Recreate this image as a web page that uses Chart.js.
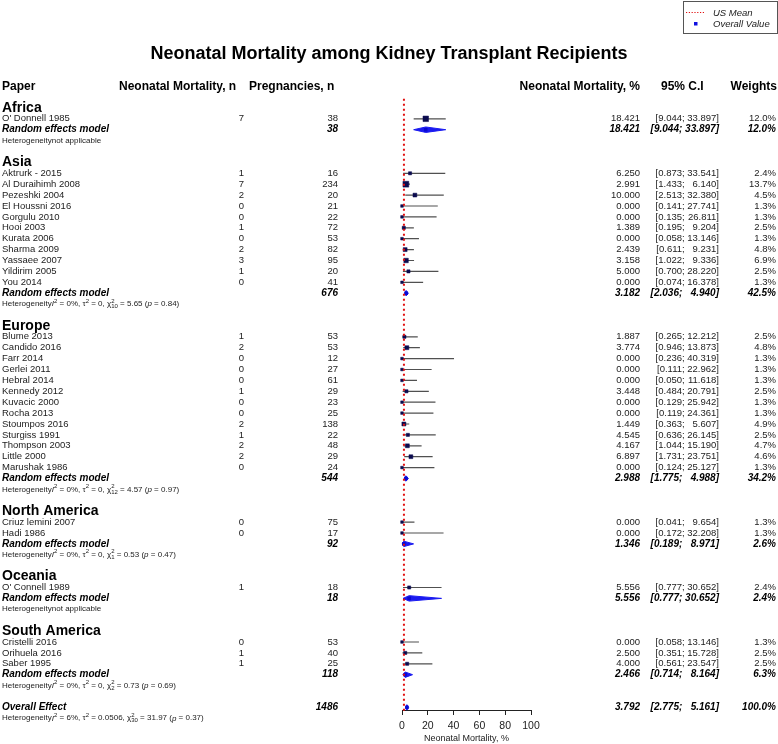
<!DOCTYPE html>
<html><head><meta charset="utf-8">
<script src="https://cdn.jsdelivr.net/npm/chart.js@4.4.0/dist/chart.umd.min.js"></script>
<style>html,body{margin:0;padding:0;background:#fff}#wrap{width:778px;height:744px;position:relative}</style>
</head><body><div id="wrap"><canvas id="c" width="778" height="744"></canvas></div>
<script>
// ---------- DATA ----------
const chartTitle = 'Neonatal Mortality among Kidney Transplant Recipients';
const regions = ['Africa', 'Asia', 'Europe', 'North America', 'Oceania', 'South America'];
const regionCounts = [1, 11, 13, 2, 1, 3];
const studyNames = [
  "O' Donnell 1985",
  'Aktrurk - 2015', 'Al Duraihimh 2008', 'Pezeshki 2004', 'El Houssni 2016', 'Gorgulu 2010', 'Hooi 2003',
  'Kurata 2006', 'Sharma 2009', 'Yassaee 2007', 'Yildirim 2005', 'You 2014',
  'Blume 2013', 'Candido 2016', 'Farr 2014', 'Gerlei 2011', 'Hebral 2014', 'Kennedy 2012', 'Kuvacic 2000',
  'Rocha 2013', 'Stoumpos 2016', 'Sturgiss 1991', 'Thompson 2003', 'Little 2000', 'Marushak 1986',
  'Criuz lemini 2007', 'Hadi 1986',
  "O' Connell 1989",
  'Cristelli 2016', 'Orihuela 2016', 'Saber 1995'
];
const deaths = [7, 1,7,2,0,0,1,0,2,3,1,0, 1,2,0,0,0,1,0,0,2,1,2,2,0, 0,0, 1, 0,1,1];
const pregnancies = [38, 16,234,20,21,22,72,53,82,95,20,41, 53,53,12,27,61,29,23,25,138,22,48,29,24, 75,17, 18, 53,40,25];
const estimate = [18.421, 6.250,2.991,10.000,0.000,0.000,1.389,0.000,2.439,3.158,5.000,0.000,
  1.887,3.774,0.000,0.000,0.000,3.448,0.000,0.000,1.449,4.545,4.167,6.897,0.000, 0.000,0.000, 5.556, 0.000,2.500,4.000];
const ciLow = [9.044, 0.873,1.433,2.513,0.141,0.135,0.195,0.058,0.611,1.022,0.700,0.074,
  0.265,0.946,0.236,0.111,0.050,0.484,0.129,0.119,0.363,0.636,1.044,1.731,0.124, 0.041,0.172, 0.777, 0.058,0.351,0.561];
const ciHigh = [33.897, 33.541,6.140,32.380,27.741,26.811,9.204,13.146,9.231,9.336,28.220,16.378,
  12.212,13.873,40.319,22.962,11.618,20.791,25.942,24.361,5.607,26.145,15.190,23.751,25.127, 9.654,32.208, 30.652, 13.146,15.728,23.547];
const weights = [12.0, 2.4,13.7,4.5,1.3,1.3,2.5,1.3,4.8,6.9,2.5,1.3, 2.5,4.8,1.3,1.3,1.3,2.5,1.3,1.3,4.9,2.5,4.7,4.6,1.3, 1.3,1.3, 2.4, 1.3,2.5,2.5];
// pooled (random effects) per region
const reTotal = [38, 676, 544, 92, 18, 118];
const reEst = [18.421, 3.182, 2.988, 1.346, 5.556, 2.466];
const reLow = [9.044, 2.036, 1.775, 0.189, 0.777, 0.714];
const reHigh = [33.897, 4.940, 4.988, 8.971, 30.652, 8.164];
const reWeight = [12.0, 42.5, 34.2, 2.6, 2.4, 6.3];
// overall
const overallTotal = 1486, overallEst = 3.792, overallLow = 2.775, overallHigh = 5.161, overallWeight = 100.0;
// heterogeneity (regions..., overall); null = not applicable
const hetI2 = [null, '0%', '0%', '0%', null, '0%', '6%'];
const hetTau2 = [null, '0', '0', '0', null, '0', '0.0506'];
const hetDf = [null, '10', '12', '1', null, '2', '30'];
const hetChi2 = [null, '5.65', '4.57', '0.53', null, '0.73', '31.97'];
const hetP = [null, '0.84', '0.97', '0.47', null, '0.69', '0.37'];
const usMean = 1.5;
const xTicks = [0, 20, 40, 60, 80, 100];

// ---------- LAYOUT OF ROWS ----------
const FONT = '"Liberation Sans", Arial, Helvetica, sans-serif';
const rows = [];
const studyRow = [], reRow = [];
let r = 0, si = 0;
regions.forEach((name, ri) => {
  rows.push({kind: 'region', ri, row: r++});
  for (let k = 0; k < regionCounts[ri]; k++) { studyRow[si] = r; rows.push({kind: 'study', i: si++, row: r++}); }
  reRow[ri] = r; rows.push({kind: 're', ri, row: r++});
  rows.push({kind: 'het', hi: ri, row: r++});
  r++;
});
const overallRow = r; rows.push({kind: 'overall', row: r++});
rows.push({kind: 'het', hi: 6, row: r++});

// ---------- DATASETS ----------
const whiskerData = [];
estimate.forEach((e, i) => {
  whiskerData.push({x: ciLow[i], y: studyRow[i]}, {x: ciHigh[i], y: studyRow[i]}, {x: null, y: null});
});
const squareData = estimate.map((e, i) => ({x: e, y: studyRow[i]}));
const squareRadius = weights.map(w => (1.2 + 1.25 * Math.sqrt(w)) / Math.SQRT2);

const H = 0.25;
function diamond(est, lo, hi, row) {
  return [{x: lo, y: row}, {x: est, y: row - H}, {x: hi, y: row}, {x: est, y: row + H}, {x: lo, y: row}];
}
const pooledEst = reEst.concat([overallEst]);
const pooledLow = reLow.concat([overallLow]);
const pooledHigh = reHigh.concat([overallHigh]);
const pooledRow = reRow.concat([overallRow]);

const datasets = [
  {type: 'line', label: 'US Mean', data: [{x: usMean, y: -0.85}, {x: usMean, y: 55.3}],
   borderColor: '#e01010', borderWidth: 2, borderDash: [2, 3], pointRadius: 0, fill: false, clip: false},
  {type: 'scatter', label: 'studies', data: squareData, pointStyle: 'rect', pointRadius: squareRadius,
   backgroundColor: '#0b0b4e', borderColor: '#0b0b4e', borderWidth: 0.5, clip: false},
  {type: 'scatter', label: 'pooled', data: pooledEst.map((e, i) => ({x: e, y: pooledRow[i]})), pointStyle: 'rect',
   pointRadius: 2.5, backgroundColor: '#0a0ad0', borderColor: '#0a0ad0', borderWidth: 0, clip: false},
];
pooledEst.forEach((e, i) => {
  datasets.push({type: 'line', label: 'diamond' + i, data: diamond(e, pooledLow[i], pooledHigh[i], pooledRow[i]),
    borderColor: '#1a1af0', borderWidth: 1, backgroundColor: '#1a1af0', fill: 'shape', pointRadius: 0, tension: 0, clip: false});
});
datasets.push({type: 'scatter', label: 'CI', data: whiskerData, showLine: true, spanGaps: false,
  borderColor: '#505050', borderWidth: 1.2, pointRadius: 0, clip: false});

// ---------- TEXT PLUGIN ----------
function richText(ctx, x, y, segs, size) {
  ctx.textAlign = 'left'; ctx.textBaseline = 'middle';
  const small = Math.round(size * 0.7);
  for (const s of segs) {
    const [t, st, sub] = s;
    if (st === 'n' || st === 'i') {
      ctx.font = (st === 'i' ? 'italic ' : '') + size + 'px ' + FONT;
      ctx.fillText(t, x, y); x += ctx.measureText(t).width;
    } else if (st === 'sup') {
      ctx.font = small + 'px ' + FONT;
      ctx.fillText(t, x, y - 3); x += ctx.measureText(t).width;
    } else if (st === 'supsub') {
      ctx.font = small + 'px ' + FONT;
      ctx.fillText(t, x, y - 3);
      ctx.fillText(sub, x, y + 2.5);
      x += Math.max(ctx.measureText(t).width, ctx.measureText(sub).width);
    }
  }
}
// CI text laid out like R: "[lo; hi]" with hi padded to a fixed width, right edge at xr
function drawCI(ctx, lo, hi, xr, y) {
  ctx.textAlign = 'right';
  ctx.fillText(hi.toFixed(3) + ']', xr, y);
  const padW = ctx.measureText('00.000]').width + ctx.measureText(' ').width;
  ctx.fillText('[' + lo.toFixed(3) + ';', xr - padW, y);
}

const textPlugin = {
  id: 'forestText',
  afterDraw(chart) {
    const ctx = chart.ctx;
    const ys = chart.scales.y;
    const Y = v => ys.getPixelForValue(v);
    ctx.save();
    // title
    ctx.fillStyle = '#000';
    ctx.font = 'bold 18px ' + FONT; ctx.textAlign = 'center'; ctx.textBaseline = 'middle';
    ctx.fillText(chartTitle, 389, 54);
    // legend box
    ctx.strokeStyle = '#555'; ctx.lineWidth = 1;
    ctx.strokeRect(683.5, 1.5, 94, 32);
    ctx.strokeStyle = '#e01010'; ctx.setLineDash([1.2, 1.6]); ctx.lineWidth = 1;
    ctx.beginPath(); ctx.moveTo(686, 12.5); ctx.lineTo(705, 12.5); ctx.stroke(); ctx.setLineDash([]);
    ctx.fillStyle = '#1010e0'; ctx.fillRect(694, 22, 3.5, 3.5);
    ctx.fillStyle = '#222'; ctx.font = 'italic 9.5px ' + FONT; ctx.textAlign = 'left';
    ctx.fillText('US Mean', 713, 13);
    ctx.fillText('Overall Value', 713, 24);
    // headers
    ctx.fillStyle = '#000'; ctx.font = 'bold 12px ' + FONT; ctx.textBaseline = 'middle';
    const hy = 87;
    ctx.textAlign = 'left'; ctx.fillText('Paper', 2, hy);
    ctx.fillText('Neonatal Mortality, n', 119, hy);
    ctx.fillText('Pregnancies, n', 249, hy);
    ctx.textAlign = 'right'; ctx.fillText('Neonatal Mortality, %', 640, hy);
    ctx.textAlign = 'left'; ctx.fillText('95% C.I', 661, hy);
    ctx.textAlign = 'right'; ctx.fillText('Weights', 777, hy);

    for (const row of rows) {
      const y = Y(row.row);
      if (row.kind === 'region') {
        ctx.fillStyle = '#000'; ctx.font = 'bold 14px ' + FONT; ctx.textAlign = 'left';
        ctx.fillText(regions[row.ri], 2, y);
      } else if (row.kind === 'study') {
        const i = row.i;
        ctx.fillStyle = '#222'; ctx.font = '9.5px ' + FONT;
        ctx.textAlign = 'left'; ctx.fillText(studyNames[i], 2, y);
        ctx.textAlign = 'right';
        ctx.fillText(String(deaths[i]), 244, y);
        ctx.fillText(String(pregnancies[i]), 338, y);
        ctx.fillText(estimate[i].toFixed(3), 640, y);
        ctx.fillText(weights[i].toFixed(1) + '%', 776, y);
        drawCI(ctx, ciLow[i], ciHigh[i], 719, y);
      } else if (row.kind === 're' || row.kind === 'overall') {
        const ov = row.kind === 'overall';
        const ri = row.ri;
        ctx.fillStyle = '#000'; ctx.font = 'bold italic 10px ' + FONT;
        ctx.textAlign = 'left'; ctx.fillText(ov ? 'Overall Effect' : 'Random effects model', 2, y);
        ctx.textAlign = 'right';
        ctx.fillText(String(ov ? overallTotal : reTotal[ri]), 338, y);
        ctx.fillText((ov ? overallEst : reEst[ri]).toFixed(3), 640, y);
        ctx.fillText((ov ? overallWeight : reWeight[ri]).toFixed(1) + '%', 776, y);
        drawCI(ctx, ov ? overallLow : reLow[ri], ov ? overallHigh : reHigh[ri], 719, y);
      } else if (row.kind === 'het') {
        const h = row.hi;
        ctx.fillStyle = '#222';
        if (hetI2[h] === null) {
          richText(ctx, 2, y, [['Heterogeneitynot applicable', 'n']], 8);
        } else {
          richText(ctx, 2, y, [
            ['Heterogeneity', 'n'], ['I', 'i'], ['2', 'sup'], [' = ' + hetI2[h] + ', ', 'n'],
            ['\u03c4', 'n'], ['2', 'sup'], [' = ' + hetTau2[h] + ', ', 'n'],
            ['\u03c7', 'n'], ['2', 'supsub', hetDf[h]], [' = ' + hetChi2[h] + ' (', 'n'],
            ['p', 'i'], [' = ' + hetP[h] + ')', 'n']
          ], 8);
        }
      }
    }
    ctx.restore();
  }
};

new Chart(document.getElementById('c'), {
  type: 'scatter',
  data: {datasets},
  options: {
    responsive: false, animation: false, devicePixelRatio: 1,
    layout: {padding: {left: 402, right: 247, top: 97, bottom: 0}},
    plugins: {legend: {display: false}, tooltip: {enabled: false}},
    scales: {
      x: {
        type: 'linear', min: 0, max: 100, position: 'bottom',
        afterFit(s) { s.height = 34; },
        afterBuildTicks(s) { s.ticks = xTicks.map(v => ({value: v})); },
        grid: {drawOnChartArea: false, drawTicks: true, tickLength: 5, color: '#222', tickColor: '#222'},
        border: {display: true, color: '#222', width: 1},
        ticks: {color: '#222', font: {family: FONT, size: 10.5}, padding: 5, maxRotation: 0, autoSkip: false},
        title: {display: true, text: 'Neonatal Mortality, %', color: '#222', font: {family: FONT, size: 9}, padding: {top: 0, bottom: 0}}
      },
      y: {type: 'linear', display: false, reverse: true, min: -1, max: 55.24}
    }
  },
  plugins: [textPlugin]
});
</script>
</body></html>
